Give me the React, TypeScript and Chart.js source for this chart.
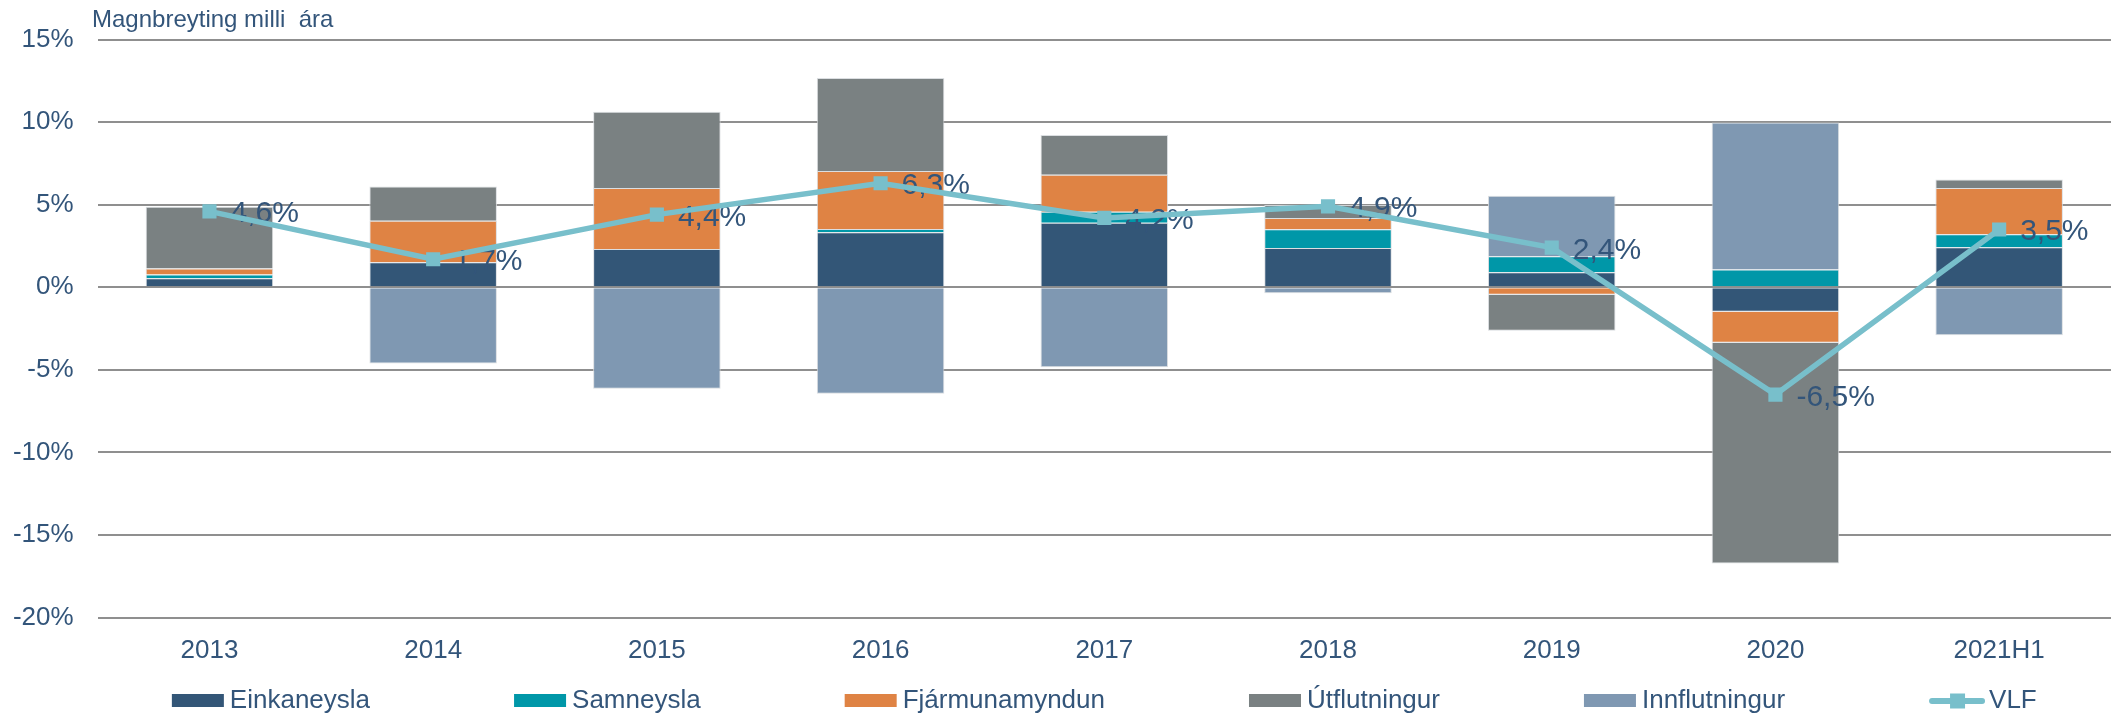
import { useEffect, useRef } from 'react';
import { Chart, registerables } from 'chart.js';

Chart.register(...registerables);

const categories = ['2013', '2014', '2015', '2016', '2017', '2018', '2019', '2020', '2021H1'];
const einkaneysla = [0.54, 1.51, 2.32, 3.33, 3.91, 2.38, 0.91, -1.49, 2.42];
const samneysla = [0.23, 0, 0, 0.2, 0.67, 1.13, 0.97, 1.07, 0.79];
const fjarmunamyndun = [0.36, 2.52, 3.69, 3.51, 2.24, 0.69, -0.46, -1.87, 2.8];
const utflutningur = [3.75, 2.08, 4.62, 5.64, 2.4, 0.78, -2.18, -13.37, 0.51];
const innflutningur = [0, -4.62, -6.15, -6.45, -4.84, -0.36, 3.67, 8.91, -2.9];
const vlf = [4.6, 1.7, 4.4, 6.3, 4.2, 4.9, 2.4, -6.5, 3.5];
const seriesNames = ['Einkaneysla', 'Samneysla', 'Fjármunamyndun', 'Útflutningur', 'Innflutningur', 'VLF'];
const chartTitle = 'Magnbreyting milli  ára';
const yMin = -20;
const yMax = 15;
const yStep = 5;

const FONT = '"Liberation Sans", Arial, Helvetica, sans-serif';
const TEXT = '#33557a';
const colors = ['#335677', '#0097a8', '#df8344', '#7a8182', '#7f98b2', '#78bfcb'];

const fmt = (v: number) => v.toFixed(1).replace('.', ',') + '%';

const titlePlugin = {
  id: 'topTitle',
  afterDraw(chart: any) {
    const ctx = chart.ctx;
    ctx.save();
    ctx.font = `24px ${FONT}`;
    ctx.fillStyle = TEXT;
    ctx.textAlign = 'left';
    ctx.textBaseline = 'alphabetic';
    ctx.fillText(chartTitle, 92, 27);
    ctx.restore();
  },
};

const labelPlugin = {
  id: 'vlfLabels',
  beforeDatasetDraw(chart: any, args: any) {
    const ds = chart.data.datasets[args.index];
    if (ds.type !== 'line') return;
    const meta = chart.getDatasetMeta(args.index);
    const ctx = chart.ctx;
    ctx.save();
    ctx.font = `30px ${FONT}`;
    ctx.fillStyle = TEXT;
    ctx.textAlign = 'left';
    ctx.textBaseline = 'alphabetic';
    meta.data.forEach((pt: any, i: number) => {
      ctx.fillText(fmt(ds.data[i]), pt.x + 21, pt.y + 11);
    });
    ctx.restore();
  },
};

const legendPlugin = {
  id: 'bottomLegend',
  afterDraw(chart: any) {
    const ctx = chart.ctx;
    const area = chart.chartArea;
    ctx.save();
    ctx.font = `26px ${FONT}`;
    const gap = 144;
    const items = chart.data.datasets.map((ds: any) => {
      const isLine = ds.type === 'line';
      const markW = isLine ? 60 : 58;
      const tw = ctx.measureText(ds.label).width;
      return { ds, isLine, markW, tw };
    });
    const total = items.reduce((s: number, it: any) => s + it.markW + it.tw, 0) + gap * (items.length - 1);
    let x = (area.left + area.right) / 2 - total / 2;
    const cy = 701;
    items.forEach((it: any) => {
      if (it.isLine) {
        ctx.strokeStyle = it.ds.borderColor;
        ctx.lineWidth = 6;
        ctx.lineCap = 'round';
        ctx.beginPath();
        ctx.moveTo(x + 3, cy);
        ctx.lineTo(x + 53, cy);
        ctx.stroke();
        ctx.fillStyle = it.ds.borderColor;
        ctx.fillRect(x + 21, cy - 7.5, 15, 15);
      } else {
        ctx.fillStyle = it.ds.backgroundColor;
        ctx.fillRect(x, cy - 7, 52, 13);
      }
      ctx.fillStyle = TEXT;
      ctx.textAlign = 'left';
      ctx.textBaseline = 'alphabetic';
      ctx.fillText(it.ds.label, x + it.markW, 708);
      x += it.markW + it.tw + gap;
    });
    ctx.restore();
  },
};

export default function App() {
  const ref = useRef<HTMLCanvasElement | null>(null);

  useEffect(() => {
    document.body.style.margin = '0';
    const canvas = ref.current;
    if (!canvas) return;
    const barSeries = [einkaneysla, samneysla, fjarmunamyndun, utflutningur, innflutningur];
    const datasets: any[] = barSeries.map((data, i) => ({
      type: 'bar',
      label: seriesNames[i],
      data,
      backgroundColor: colors[i],
      borderColor: 'rgba(215,218,222,0.9)',
      borderWidth: (c: any) => (c.raw === 0 ? 0 : 1),
      order: 1,
      stack: 'bars',
      categoryPercentage: 1,
      barPercentage: 0.57,
    }));
    datasets.push({
      type: 'line',
      label: seriesNames[5],
      data: vlf,
      borderColor: colors[5],
      backgroundColor: colors[5],
      borderWidth: 5.5,
      pointStyle: 'rect',
      pointRadius: 10,
      pointHoverRadius: 10,
      pointBorderWidth: 0,
      tension: 0,
      order: 0,
      stack: 'vlf',
    });

    const chart = new Chart(canvas, {
      type: 'bar',
      data: { labels: categories, datasets },
      options: {
        responsive: false,
        animation: false,
        layout: { padding: { top: 39, left: 0, right: 0, bottom: 0 } },
        plugins: {
          legend: { display: false },
          tooltip: { enabled: false },
          title: { display: false },
        },
        scales: {
          x: {
            stacked: true,
            grid: { display: false, drawTicks: false },
            border: { display: false },
            ticks: {
              color: TEXT,
              font: { family: FONT, size: 26 },
              padding: 18,
              maxRotation: 0,
              autoSkip: false,
            },
            afterFit(scale: any) {
              scale.height = 98.5;
            },
          },
          y: {
            stacked: true,
            min: yMin,
            max: yMax,
            grid: { color: '#8f8f8f', lineWidth: 2, drawTicks: false },
            border: { display: false },
            ticks: {
              stepSize: yStep,
              color: TEXT,
              font: { family: FONT, size: 26 },
              padding: 24,
              callback: (v: any) => `${v}%`,
            },
            afterFit(scale: any) {
              scale.width = 97.6;
            },
          },
        },
      } as any,
      plugins: [titlePlugin, labelPlugin, legendPlugin],
    });
    return () => chart.destroy();
  }, []);

  return (
    <div style={{ position: 'absolute', left: 0, top: 0, width: 2121, height: 716, background: '#fff' }}>
      <canvas ref={ref} width={2121} height={716} style={{ display: 'block' }} />
    </div>
  );
}
